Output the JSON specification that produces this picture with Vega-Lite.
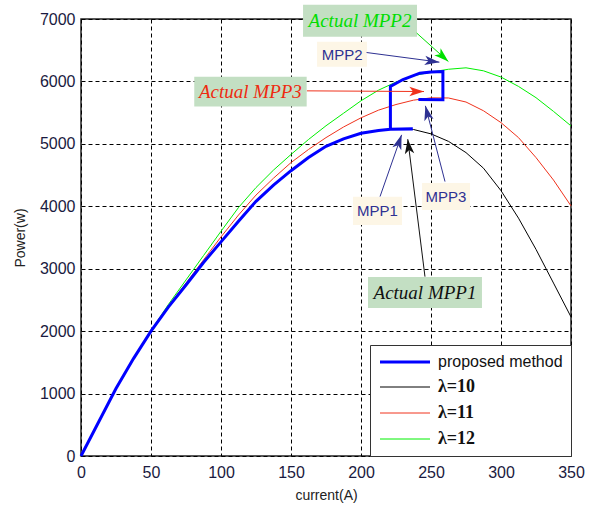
{
  "$schema": "https://vega.github.io/schema/vega-lite/v6.json",
  "width": 490,
  "height": 437,
  "autosize": "none",
  "padding": {"left": 81, "top": 19, "right": 20, "bottom": 51},
  "background": "white",
  "datasets": {
    "curves": [
      {"series": "λ=10", "I": 0, "P": 0}, {"series": "λ=10", "I": 12.5, "P": 540}, {"series": "λ=10", "I": 25, "P": 1080}, {"series": "λ=10", "I": 37.5, "P": 1560}, {"series": "λ=10", "I": 50, "P": 2000}, {"series": "λ=10", "I": 62.5, "P": 2390}, {"series": "λ=10", "I": 75, "P": 2740}, {"series": "λ=10", "I": 87.5, "P": 3100}, {"series": "λ=10", "I": 100, "P": 3430}, {"series": "λ=10", "I": 112.5, "P": 3760}, {"series": "λ=10", "I": 125, "P": 4080}, {"series": "λ=10", "I": 137.5, "P": 4340}, {"series": "λ=10", "I": 150, "P": 4570}, {"series": "λ=10", "I": 162.5, "P": 4780}, {"series": "λ=10", "I": 175, "P": 4960}, {"series": "λ=10", "I": 187.5, "P": 5080}, {"series": "λ=10", "I": 200, "P": 5170}, {"series": "λ=10", "I": 212.5, "P": 5215}, {"series": "λ=10", "I": 225, "P": 5238}, {"series": "λ=10", "I": 237.5, "P": 5230}, {"series": "λ=10", "I": 250, "P": 5160}, {"series": "λ=10", "I": 262.5, "P": 5040}, {"series": "λ=10", "I": 275, "P": 4860}, {"series": "λ=10", "I": 287.5, "P": 4610}, {"series": "λ=10", "I": 300, "P": 4250}, {"series": "λ=10", "I": 312.5, "P": 3810}, {"series": "λ=10", "I": 325, "P": 3310}, {"series": "λ=10", "I": 337.5, "P": 2770}, {"series": "λ=10", "I": 350, "P": 2228},
      {"series": "λ=11", "I": 0, "P": 0}, {"series": "λ=11", "I": 12.5, "P": 545}, {"series": "λ=11", "I": 25, "P": 1085}, {"series": "λ=11", "I": 37.5, "P": 1565}, {"series": "λ=11", "I": 50, "P": 2005}, {"series": "λ=11", "I": 62.5, "P": 2405}, {"series": "λ=11", "I": 75, "P": 2770}, {"series": "λ=11", "I": 87.5, "P": 3140}, {"series": "λ=11", "I": 100, "P": 3510}, {"series": "λ=11", "I": 112.5, "P": 3860}, {"series": "λ=11", "I": 125, "P": 4180}, {"series": "λ=11", "I": 137.5, "P": 4450}, {"series": "λ=11", "I": 150, "P": 4700}, {"series": "λ=11", "I": 162.5, "P": 4910}, {"series": "λ=11", "I": 175, "P": 5100}, {"series": "λ=11", "I": 187.5, "P": 5270}, {"series": "λ=11", "I": 200, "P": 5417}, {"series": "λ=11", "I": 212.5, "P": 5540}, {"series": "λ=11", "I": 225, "P": 5630}, {"series": "λ=11", "I": 237.5, "P": 5700}, {"series": "λ=11", "I": 250, "P": 5737}, {"series": "λ=11", "I": 262.5, "P": 5735}, {"series": "λ=11", "I": 275, "P": 5670}, {"series": "λ=11", "I": 287.5, "P": 5530}, {"series": "λ=11", "I": 300, "P": 5340}, {"series": "λ=11", "I": 312.5, "P": 5100}, {"series": "λ=11", "I": 325, "P": 4780}, {"series": "λ=11", "I": 337.5, "P": 4420}, {"series": "λ=11", "I": 350, "P": 4006},
      {"series": "λ=12", "I": 0, "P": 0}, {"series": "λ=12", "I": 12.5, "P": 545}, {"series": "λ=12", "I": 25, "P": 1090}, {"series": "λ=12", "I": 37.5, "P": 1570}, {"series": "λ=12", "I": 50, "P": 2010}, {"series": "λ=12", "I": 62.5, "P": 2430}, {"series": "λ=12", "I": 75, "P": 2820}, {"series": "λ=12", "I": 87.5, "P": 3210}, {"series": "λ=12", "I": 100, "P": 3600}, {"series": "λ=12", "I": 112.5, "P": 3980}, {"series": "λ=12", "I": 125, "P": 4300}, {"series": "λ=12", "I": 137.5, "P": 4580}, {"series": "λ=12", "I": 150, "P": 4830}, {"series": "λ=12", "I": 162.5, "P": 5070}, {"series": "λ=12", "I": 175, "P": 5290}, {"series": "λ=12", "I": 187.5, "P": 5490}, {"series": "λ=12", "I": 200, "P": 5690}, {"series": "λ=12", "I": 212.5, "P": 5860}, {"series": "λ=12", "I": 225, "P": 5990}, {"series": "λ=12", "I": 237.5, "P": 6090}, {"series": "λ=12", "I": 250, "P": 6150}, {"series": "λ=12", "I": 262.5, "P": 6195}, {"series": "λ=12", "I": 275, "P": 6218}, {"series": "λ=12", "I": 287.5, "P": 6170}, {"series": "λ=12", "I": 300, "P": 6070}, {"series": "λ=12", "I": 312.5, "P": 5920}, {"series": "λ=12", "I": 325, "P": 5740}, {"series": "λ=12", "I": 337.5, "P": 5520}, {"series": "λ=12", "I": 350, "P": 5288}
    ],
    "blue": [
      {"series": "proposed method", "o": 0, "I": 0, "P": 0}, {"series": "proposed method", "o": 1, "I": 12.5, "P": 540}, {"series": "proposed method", "o": 2, "I": 25, "P": 1080}, {"series": "proposed method", "o": 3, "I": 37.5, "P": 1560}, {"series": "proposed method", "o": 4, "I": 50, "P": 2000}, {"series": "proposed method", "o": 5, "I": 62.5, "P": 2390}, {"series": "proposed method", "o": 6, "I": 75, "P": 2740}, {"series": "proposed method", "o": 7, "I": 87.5, "P": 3100}, {"series": "proposed method", "o": 8, "I": 100, "P": 3430}, {"series": "proposed method", "o": 9, "I": 112.5, "P": 3760}, {"series": "proposed method", "o": 10, "I": 125, "P": 4080}, {"series": "proposed method", "o": 11, "I": 137.5, "P": 4340}, {"series": "proposed method", "o": 12, "I": 150, "P": 4570}, {"series": "proposed method", "o": 13, "I": 162.5, "P": 4780}, {"series": "proposed method", "o": 14, "I": 175, "P": 4960}, {"series": "proposed method", "o": 15, "I": 187.5, "P": 5080}, {"series": "proposed method", "o": 16, "I": 200, "P": 5170}, {"series": "proposed method", "o": 17, "I": 212.5, "P": 5215}, {"series": "proposed method", "o": 18, "I": 221, "P": 5232}, {"series": "proposed method", "o": 19, "I": 237, "P": 5236}, {"series": "proposed method", "o": 20, "I": 221, "P": 5234}, {"series": "proposed method", "o": 21, "I": 221, "P": 5920}, {"series": "proposed method", "o": 22, "I": 230, "P": 6030}, {"series": "proposed method", "o": 23, "I": 242, "P": 6132}, {"series": "proposed method", "o": 24, "I": 250, "P": 6150}, {"series": "proposed method", "o": 25, "I": 258.5, "P": 6159}, {"series": "proposed method", "o": 26, "I": 258.5, "P": 5705}, {"series": "proposed method", "o": 27, "I": 241, "P": 5712}
    ],
    "boxes": [
      {"name": "A2", "kind": "actual", "I": 158.6, "I2": 240, "P": 6715, "P2": 7228},
      {"name": "M2", "kind": "mpp", "I": 168.6, "I2": 204.3, "P": 6234, "P2": 6635},
      {"name": "A3", "kind": "actual", "I": 80.9, "I2": 161.2, "P": 5600, "P2": 6074},
      {"name": "M1", "kind": "mpp", "I": 194.3, "I2": 229.3, "P": 3702, "P2": 4151},
      {"name": "M3", "kind": "mpp", "I": 243.6, "I2": 277.9, "P": 3942, "P2": 4375},
      {"name": "A1", "kind": "actual", "I": 205, "I2": 286.4, "P": 2372, "P2": 2869}
    ],
    "labels": [
      {"name": "A2", "kind": "actual", "text": "Actual MPP2", "I": 199.3, "P": 6965},
      {"name": "M2", "kind": "mpp", "text": "MPP2", "I": 186.5, "P": 6430},
      {"name": "A3", "kind": "actual", "text": "Actual MPP3", "I": 121, "P": 5835},
      {"name": "M1", "kind": "mpp", "text": "MPP1", "I": 211.8, "P": 3920},
      {"name": "M3", "kind": "mpp", "text": "MPP3", "I": 260.7, "P": 4150},
      {"name": "A1", "kind": "actual", "text": "Actual MPP1", "I": 245.7, "P": 2615}
    ],
    "arrows": [
      {"name": "A2", "I": 239.8, "P": 6774, "I2": 262.4, "P2": 6319},
      {"name": "M2", "I": 204, "P": 6463, "I2": 256, "P2": 6309},
      {"name": "A3", "I": 161.4, "P": 5849, "I2": 245, "P2": 5838},
      {"name": "M1", "I": 213.6, "P": 4156, "I2": 229, "P2": 5144},
      {"name": "M3", "I": 260, "P": 4396, "I2": 246, "P2": 5609},
      {"name": "A1", "I": 245.7, "P": 2873, "I2": 233.4, "P2": 5075}
    ]
  },
  "encoding": {
    "x": {
      "field": "I", "type": "quantitative",
      "scale": {"domain": [0, 350], "nice": false, "zero": false},
      "axis": {"title": "current(A)", "values": [0, 50, 100, 150, 200, 250, 300, 350], "format": "d", "labelFlush": false, "titlePadding": 8}
    },
    "y": {
      "field": "P", "type": "quantitative",
      "scale": {"domain": [0, 7000], "nice": false, "zero": false},
      "axis": {"title": "Power(w)", "values": [0, 1000, 2000, 3000, 4000, 5000, 6000, 7000], "format": "d", "labelFlush": false, "titlePadding": 12}
    }
  },
  "layer": [
    {
      "data": {"name": "curves"},
      "mark": {"type": "line", "strokeWidth": 1},
      "encoding": {
        "color": {
          "field": "series", "type": "nominal",
          "scale": {"domain": ["proposed method", "λ=10", "λ=11", "λ=12"], "range": ["#0000ff", "#000000", "#f0321c", "#00f000"]},
          "legend": {
            "title": null, "orient": "bottom-right", "offset": 0, "padding": 8,
            "fillColor": "white", "strokeColor": "#333333",
            "symbolType": "M-5,0L5,0", "symbolSize": 100, "symbolOffset": 18, "rowPadding": 8,
            "labelOffset": 24, "labelFont": "Liberation Serif", "labelFontWeight": "bold", "labelFontSize": 18, "labelColor": "#111111",
            "encode": {
              "symbols": {"update": {
                "strokeWidth": {"signal": "datum.label === 'proposed method' ? 3 : 1"}
              }},
              "labels": {"update": {
                "font": {"signal": "datum.label === 'proposed method' ? 'Liberation Sans' : 'Liberation Serif'"},
                "fontWeight": {"signal": "datum.label === 'proposed method' ? 'normal' : 'bold'"},
                "fontSize": {"signal": "datum.label === 'proposed method' ? 16 : 18"}
              }}
            }
          }
        },
        "order": {"field": "I", "type": "quantitative"}
      }
    },
    {
      "data": {"name": "blue"},
      "mark": {"type": "line", "strokeWidth": 3},
      "encoding": {
        "color": {"field": "series", "type": "nominal"},
        "order": {"field": "o", "type": "quantitative"}
      }
    },
    {
      "data": {"name": "boxes"},
      "mark": {"type": "rect"},
      "encoding": {
        "x2": {"field": "I2"},
        "y2": {"field": "P2"},
        "fill": {"condition": {"test": "datum.kind === 'actual'", "value": "#c3dfc3"}, "value": "#fdf6e6"}
      }
    },
    {
      "data": {"name": "arrows"},
      "mark": {"type": "rule", "strokeWidth": 1},
      "encoding": {
        "x2": {"field": "I2"},
        "y2": {"field": "P2"},
        "color": {"condition": [
          {"test": "datum.name === 'A2'", "value": "#00e000"},
          {"test": "datum.name === 'A3'", "value": "#f0321c"},
          {"test": "datum.name === 'A1'", "value": "#111111"}
        ], "value": "#2e3192"}
      }
    },
    {
      "data": {"name": "arrows"},
      "mark": {"type": "point", "filled": true, "shape": "M0,0L-0.45,1.4L0,1.05L0.45,1.4Z", "size": 440, "opacity": 1},
      "encoding": {
        "x": {"field": "I2", "type": "quantitative"},
        "y": {"field": "P2", "type": "quantitative"},
        "angle": {"condition": [
          {"test": "datum.name === 'A2'", "value": 132},
          {"test": "datum.name === 'M2'", "value": 97},
          {"test": "datum.name === 'A3'", "value": 90},
          {"test": "datum.name === 'M1'", "value": 19},
          {"test": "datum.name === 'M3'", "value": 346}
        ], "value": 353},
        "color": {"condition": [
          {"test": "datum.name === 'A2'", "value": "#00e000"},
          {"test": "datum.name === 'A3'", "value": "#f0321c"},
          {"test": "datum.name === 'A1'", "value": "#111111"}
        ], "value": "#2e3192"}
      }
    },
    {
      "data": {"name": "labels"},
      "transform": [{"filter": "datum.kind === 'actual'"}],
      "mark": {"type": "text", "font": "Liberation Serif", "fontStyle": "italic", "fontSize": 19, "align": "center", "baseline": "middle"},
      "encoding": {
        "text": {"field": "text"},
        "color": {"condition": [
          {"test": "datum.name === 'A2'", "value": "#00dd00"},
          {"test": "datum.name === 'A3'", "value": "#ee2a10"}
        ], "value": "#111111"}
      }
    },
    {
      "data": {"name": "labels"},
      "transform": [{"filter": "datum.kind === 'mpp'"}],
      "mark": {"type": "text", "font": "Liberation Sans", "fontSize": 15, "align": "center", "baseline": "middle", "color": "#2e3192"},
      "encoding": {
        "text": {"field": "text"}
      }
    }
  ],
  "config": {
    "view": {"stroke": "#222222", "strokeWidth": 1.5},
    "axis": {
      "domain": false,
      "ticks": false,
      "grid": true,
      "gridColor": "#000000",
      "gridOpacity": 1,
      "gridDash": [4, 3],
      "gridWidth": 1,
      "labelFont": "Liberation Sans",
      "labelFontSize": 16,
      "labelColor": "#1a1a40",
      "titleFont": "Liberation Sans",
      "titleFontSize": 14,
      "titleFontWeight": "normal",
      "titleColor": "#222222"
    },
    "axisX": {"labelPadding": 8},
    "axisY": {"labelPadding": 6}
  }
}
